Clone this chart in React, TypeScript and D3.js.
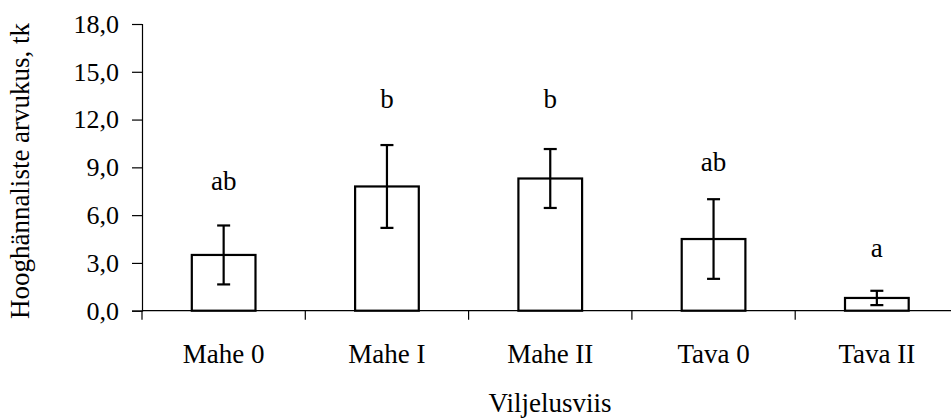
import React, { useEffect, useRef } from 'react';
import * as d3 from 'd3';

const categories = ['Mahe 0', 'Mahe I', 'Mahe II', 'Tava 0', 'Tava II'];
const means = [3.5, 7.8, 8.3, 4.5, 0.8];
const errors = [1.85, 2.6, 1.85, 2.5, 0.45];
const letters = ['ab', 'b', 'b', 'ab', 'a'];
// where the letter sits, in axis units (baseline)
const letterLevel = [7.6, 12.7, 12.7, 8.8, 3.4];
const yTicks = [0, 3, 6, 9, 12, 15, 18];

const W = 951;
const H = 418;

export default function App() {
    const ref = useRef<SVGSVGElement>(null);

    useEffect(() => {
        const svg = d3.select(ref.current);
        svg.selectAll('*').remove();

        const left = 142, top = 24, bottom = 310.7, right = 958.5;
        const font = "'Liberation Serif', 'DejaVu Serif', serif";

        const x = d3.scaleBand().domain(categories).range([left, right]).padding(0);
        const y = d3.scaleLinear().domain([0, 18]).range([bottom, top]);
        const barW = x.bandwidth() * 0.39;

        // y axis
        const yAxis = d3.axisLeft(y).tickValues(yTicks).tickSize(10).tickPadding(13)
            .tickFormat(d => d3.format('.1f')(d as number).replace('.', ','));
        const gy = svg.append('g').attr('transform', 'translate(' + left + ',0)').call(yAxis)
            .attr('font-family', null).attr('font-size', null);
        gy.select('.domain').attr('stroke', '#000').attr('stroke-width', 1.2);
        gy.selectAll('.tick line').attr('stroke', '#000').attr('stroke-width', 1.2);
        gy.selectAll('.tick text').style('font-family', font).style('font-size', '26px').attr('fill', '#000');

        // x axis line with category boundary ticks
        svg.append('line').attr('x1', left).attr('x2', W).attr('y1', bottom).attr('y2', bottom)
            .attr('stroke', '#000').attr('stroke-width', 1.2);
        const bounds = categories.map(c => x(c) as number);
        svg.selectAll('.xtick').data(bounds).enter().append('line')
            .attr('x1', d => d).attr('x2', d => d).attr('y1', bottom).attr('y2', bottom + 9)
            .attr('stroke', '#000').attr('stroke-width', 1.2);

        svg.selectAll('.xlab').data(categories).enter().append('text')
            .attr('x', d => (x(d) as number) + x.bandwidth() / 2).attr('y', 363)
            .attr('text-anchor', 'middle').style('font-family', font).style('font-size', '27px')
            .text(d => d);

        // bars
        svg.selectAll('.bar').data(categories).enter().append('rect')
            .attr('x', d => (x(d) as number) + x.bandwidth() / 2 - barW / 2)
            .attr('y', (d, i) => y(means[i]))
            .attr('width', barW)
            .attr('height', (d, i) => y(0) - y(means[i]))
            .attr('fill', '#fff').attr('stroke', '#000').attr('stroke-width', 2.2);

        // error bars
        const cap = 6.5;
        categories.forEach((c, i) => {
            const cx = (x(c) as number) + x.bandwidth() / 2;
            const hi = y(means[i] + errors[i]);
            const lo = y(means[i] - errors[i]);
            const g = svg.append('g').attr('stroke', '#000').attr('stroke-width', 2.2);
            g.append('line').attr('x1', cx).attr('x2', cx).attr('y1', hi).attr('y2', lo);
            g.append('line').attr('x1', cx - cap).attr('x2', cx + cap).attr('y1', hi).attr('y2', hi);
            g.append('line').attr('x1', cx - cap).attr('x2', cx + cap).attr('y1', lo).attr('y2', lo);
            svg.append('text').attr('x', cx).attr('y', y(letterLevel[i]))
                .attr('text-anchor', 'middle').style('font-family', font).style('font-size', '27px')
                .text(letters[i]);
        });

        // titles
        svg.append('text').attr('transform', 'translate(29,171) rotate(-90)')
            .attr('text-anchor', 'middle').style('font-family', font).style('font-size', '27px')
            .text('Hooghännaliste arvukus, tk');
        svg.append('text').attr('x', 550).attr('y', 412)
            .attr('text-anchor', 'middle').style('font-family', font).style('font-size', '27px')
            .text('Viljelusviis');
    }, []);

    return (
        <svg ref={ref} width={W} height={H}
             style={{position: 'absolute', left: 0, top: 0, background: '#fff'}}/>
    );
}
